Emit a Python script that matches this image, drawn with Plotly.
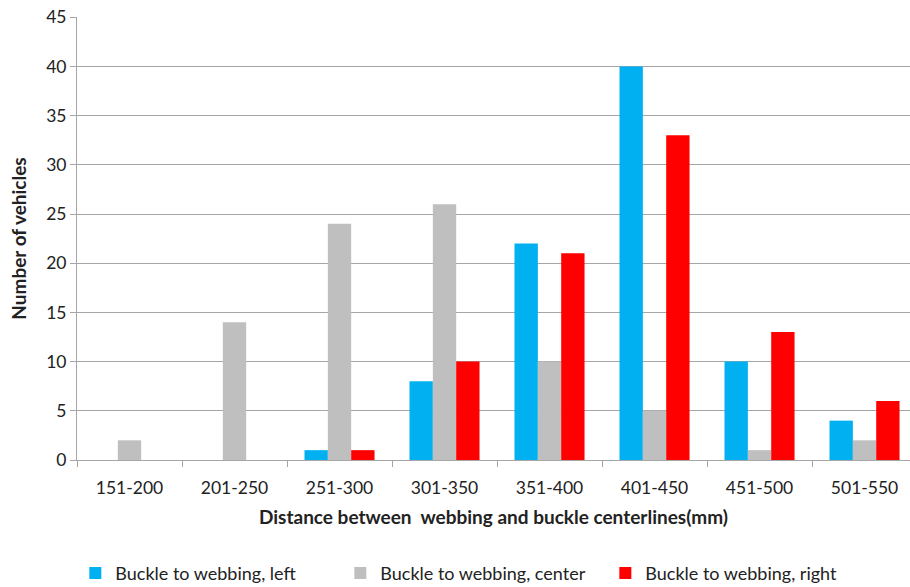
import plotly.graph_objects as go

categories = ["151-200", "201-250", "251-300", "301-350", "351-400", "401-450", "451-500", "501-550"]
left = [0, 0, 1, 8, 22, 40, 10, 4]
center = [2, 14, 24, 26, 10, 5, 1, 2]
right = [0, 0, 1, 10, 21, 33, 13, 6]
y_ticks = [0, 5, 10, 15, 20, 25, 30, 35, 40, 45]

series = [
    ("Buckle to webbing, left", left, "#00B0F0"),
    ("Buckle to webbing, center", center, "#BFBFBF"),
    ("Buckle to webbing, right", right, "#FF0000"),
]

fig = go.Figure()
for name, vals, color in series:
    fig.add_trace(go.Bar(x=categories, y=vals, name=name, marker_color=color,
                         marker_line_width=0))

font = "Lato, Liberation Sans, sans-serif"
fig.update_layout(
    width=910, height=587,
    margin=dict(l=77, r=0, t=17, b=127, autoexpand=False),
    paper_bgcolor="white", plot_bgcolor="white",
    barmode="group", bargap=0.333, bargroupgap=0,
    font=dict(family=font, size=17.5, color="#222222"),
    legend=dict(orientation="h", x=-0.002, xanchor="left", y=-0.2557, yanchor="middle",
                font=dict(size=18, color="#222222"), entrywidth=220, entrywidthmode="pixels"),
    xaxis=dict(
        range=[-0.5, 7.433],
        showline=True, linecolor="#A6A6A6", linewidth=1,
        ticks="outside", tickson="boundaries", ticklen=6, tickcolor="#A6A6A6",
        tickfont=dict(size=17.5), ticklabelstandoff=12,
        title=dict(text="<b>Distance between  webbing and buckle centerlines(mm)</b>",
                   font=dict(size=19), standoff=13),
    ),
    yaxis=dict(
        range=[0, 45.02], tickvals=y_ticks,
        showline=True, linecolor="#A6A6A6", linewidth=1,
        showgrid=True, gridcolor="#A6A6A6", gridwidth=1,
        ticks="outside", ticklen=6, tickcolor="#A6A6A6",
        tickfont=dict(size=17.5), ticklabeloverflow="allow",
        title=dict(text="<b>Number of vehicles</b>", font=dict(size=19), standoff=14),
        zeroline=False,
    ),
)

fig.write_html("out.html", config={"displayModeBar": False},
               post_script="document.body.style.margin='0';")
